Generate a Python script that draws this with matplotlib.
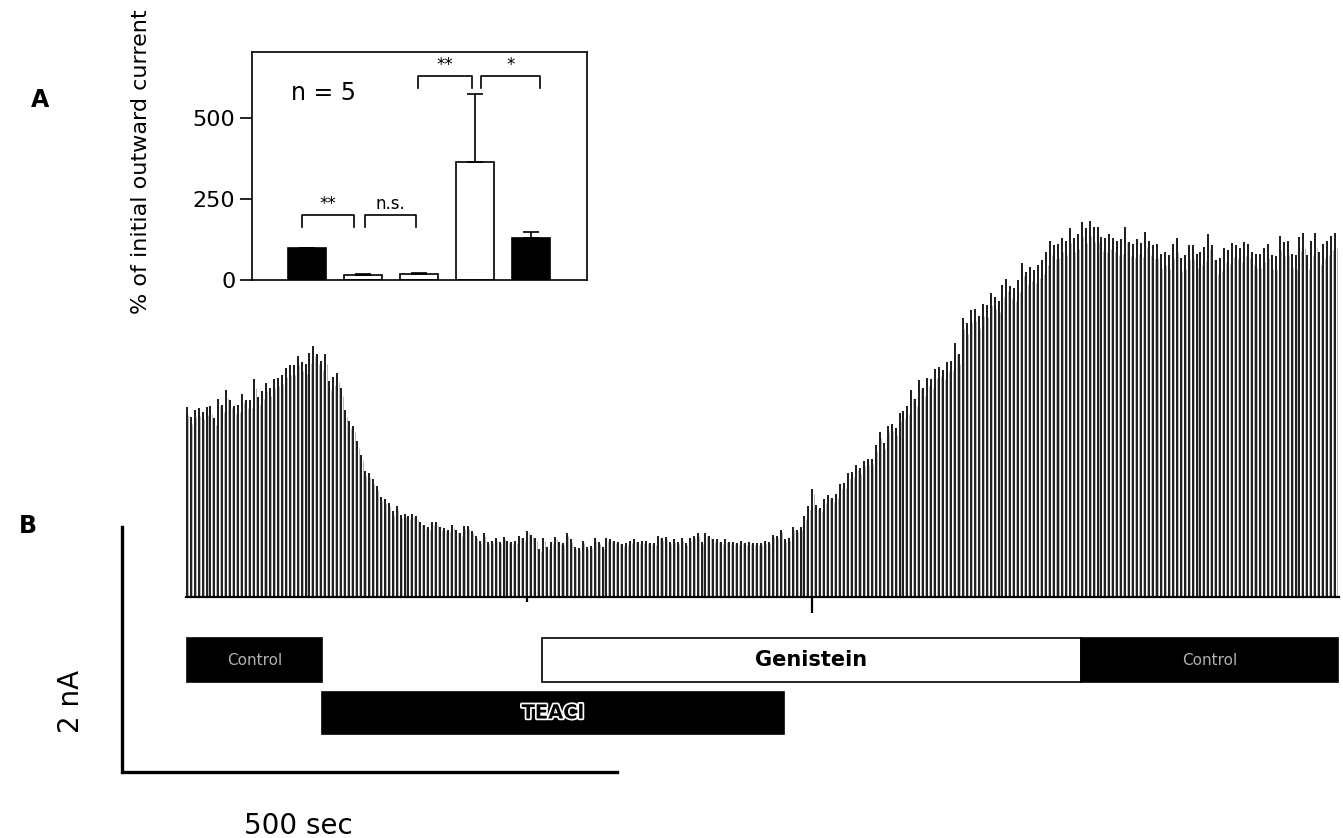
import numpy as np
import matplotlib
matplotlib.use("Agg")
import matplotlib.pyplot as plt
import matplotlib.patheffects as pe

# peak outward current of each sweep (nA), one sweep every 4 s
peak_na = [
    1.55, 1.47, 1.53, 1.54, 1.51, 1.55, 1.56, 1.46, 1.62, 1.57,
    1.69, 1.61, 1.56, 1.57, 1.66, 1.61, 1.61, 1.78, 1.63, 1.68,
    1.75, 1.71, 1.78, 1.79, 1.81, 1.87, 1.89, 1.89, 1.97, 1.92,
    1.90, 1.99, 2.05, 1.98, 1.93, 1.98, 1.76, 1.80, 1.83, 1.71,
    1.53, 1.44, 1.40, 1.27, 1.16, 1.03, 1.01, 0.96, 0.91, 0.82,
    0.80, 0.77, 0.70, 0.74, 0.67, 0.68, 0.66, 0.68, 0.66, 0.61,
    0.59, 0.57, 0.61, 0.61, 0.57, 0.56, 0.55, 0.59, 0.55, 0.52,
    0.58, 0.58, 0.54,
    0.50, 0.46, 0.52, 0.45, 0.46, 0.48, 0.45, 0.49, 0.46, 0.45,
    0.46, 0.50, 0.48, 0.54, 0.51, 0.48, 0.39, 0.48, 0.41, 0.45,
    0.49, 0.45, 0.44, 0.52, 0.47, 0.41, 0.40, 0.46, 0.41, 0.42,
    0.48, 0.45, 0.41, 0.48, 0.47, 0.46, 0.45, 0.43, 0.44, 0.46,
    0.47, 0.45, 0.46, 0.46, 0.44, 0.44, 0.50, 0.48, 0.49, 0.45,
    0.47, 0.45, 0.48, 0.44, 0.48, 0.50, 0.52, 0.45, 0.52, 0.50,
    0.47, 0.47, 0.45, 0.47, 0.45, 0.45, 0.44, 0.46, 0.44, 0.45,
    0.44, 0.44,
    0.44, 0.46, 0.45, 0.51, 0.50, 0.55, 0.47, 0.48, 0.57, 0.55,
    0.57, 0.66, 0.74, 0.88, 0.75, 0.73, 0.80, 0.83, 0.81, 0.84,
    0.92, 0.93, 1.01, 1.02, 1.08, 1.05, 1.11, 1.13, 1.13, 1.24,
    1.35, 1.26, 1.40, 1.41, 1.38, 1.50, 1.52, 1.56, 1.69, 1.62,
    1.77, 1.71, 1.79, 1.78, 1.86, 1.88, 1.85, 1.92, 1.93, 2.07,
    1.98, 2.28, 2.24, 2.34, 2.35, 2.29, 2.39, 2.38, 2.48, 2.45,
    2.42, 2.55, 2.60, 2.54, 2.52, 2.59, 2.73, 2.65, 2.69, 2.67,
    2.71, 2.75,
    2.82, 2.91, 2.87, 2.88, 2.93, 2.91, 3.01, 2.93, 2.96, 3.06,
    3.01, 3.07, 3.02, 3.02, 2.94, 2.93, 2.96, 2.93, 2.91, 2.92,
    3.02, 2.90, 2.88, 2.92, 2.89, 2.98, 2.91, 2.87, 2.88, 2.80,
    2.82, 2.79, 2.88, 2.93, 2.77, 2.79, 2.87, 2.87, 2.80, 2.82,
    2.86, 2.96, 2.87, 2.75, 2.77, 2.85, 2.83, 2.89, 2.87, 2.85,
    2.90, 2.88, 2.82, 2.80, 2.80, 2.85, 2.88, 2.79, 2.78, 2.95,
    2.90, 2.91, 2.80, 2.79, 2.94, 2.97, 2.79, 2.91, 2.97, 2.82,
    2.88, 2.91, 2.95, 2.97,
]
sweep_interval = 4  # s

# artefacts below the baseline (time in s, nA)
dip_t = [344, 632]
dip_na = [-0.04, -0.13]

# drug applications (s)
sol_names = ["Control", "TEACl", "Genistein", "Control"]
sol_start = [0, 137, 359, 903]
sol_end = [137, 603, 903, 1163]
sol_row = [0, 1, 0, 0]
sol_dark = [True, True, False, True]

# scale bars
scale_t = 500   # sec
scale_i = 2     # nA

# inset bar chart (A)
bar_means = [100, 15, 17, 364, 130]
bar_err = [0, 3, 5, 210, 18]
bar_colors = ["black", "white", "white", "white", "black"]
sig_labels = ["**", "n.s.", "**", "*"]
sig_levels = [200, 200, 630, 630]

W, H = 1343, 838
fig = plt.figure(figsize=(W / 100, H / 100), dpi=100)
plt.rcParams["font.family"] = ["DejaVu Sans"]

# ---- B: current trace ----
px_s = 0.99      # pixels per second
px_na = 122.5    # pixels per nA
x0, y0 = 186.7, 597.0
ax = fig.add_axes([0, 0, 1, 1])
ax.set_xlim(-x0 / px_s, (W - x0) / px_s)
ax.set_ylim(-(H - y0) / px_na, y0 / px_na)
ax.axis("off")

t = np.arange(len(peak_na)) * sweep_interval
ax.vlines(t, 0, peak_na, color="black", lw=1.25)
ax.vlines(t + 1.6, 0, np.array(peak_na) * 0.96, color="#9a9a9a", lw=0.5)
ax.plot([t[0] - 1, t[-1] + 4], [0, 0], color="black", lw=1.6)
ax.vlines(dip_t, dip_na, 0, color="black", lw=1.6)

row_y = [(-0.694, -0.335), (-1.118, -0.776)]
for name, s, e, r, dark in zip(sol_names, sol_start, sol_end, sol_row, sol_dark):
    lo, hi = row_y[r]
    ax.add_patch(plt.Rectangle((s, lo), e - s, hi - lo,
                               facecolor="black" if dark else "white",
                               edgecolor="black", lw=1.2))
    cx, cy = (s + e) / 2, (lo + hi) / 2
    if name == "TEACl":
        ax.text(cx, cy, name, color="black", fontsize=14, fontweight="bold",
                ha="center", va="center",
                path_effects=[pe.withStroke(linewidth=2.5, foreground="white")])
    elif dark:
        ax.text(cx, cy, name, color="#b0b0b0", fontsize=11,
                ha="center", va="center")
    else:
        ax.text(cx, cy, name, color="black", fontsize=15, fontweight="bold",
                ha="center", va="center")

sb_x = (122 - x0) / px_s
sb_y = -(772 - y0) / px_na
ax.plot([sb_x, sb_x, sb_x + scale_t], [sb_y + scale_i, sb_y, sb_y],
        color="black", lw=2.4, solid_joinstyle="miter")
ax.text(sb_x - 52, sb_y + 0.58, f"{scale_i} nA", rotation=90, fontsize=20,
        ha="center", va="center")
ax.text(sb_x + 178, sb_y - 0.44, f"{scale_t} sec", fontsize=20,
        ha="center", va="center")

fig.text(40 / W, 1 - 100 / H, "A", fontsize=17, fontweight="bold",
         ha="center", va="center")
fig.text(28 / W, 1 - 526 / H, "B", fontsize=17, fontweight="bold",
         ha="center", va="center")

# ---- A: inset bars ----
axi = fig.add_axes([252 / W, 1 - 280 / H, 335 / W, 228 / H])
xb = np.arange(len(bar_means))
axi.bar(xb, bar_means, width=0.68, color=bar_colors, edgecolor="black", lw=1.2)
axi.errorbar(xb, bar_means, yerr=[np.zeros(len(bar_err)), bar_err], fmt="none",
             ecolor="black", elinewidth=1.2, capsize=6, capthick=1.2)
axi.set_xlim(-0.98, 5.0)
axi.set_ylim(0, 704)
axi.set_xticks([])
axi.set_yticks([0, 250, 500])
axi.tick_params(axis="y", length=9, width=1.2, labelsize=16, pad=3)
for sp in axi.spines.values():
    sp.set_linewidth(1.2)
axi.set_ylabel("% of initial outward current", fontsize=16)
axi.yaxis.set_label_coords(-0.30, 0.52)
axi.text(0.29, 577, "n = 5", fontsize=17, ha="center", va="center")

spans = [(-0.09, 0.84), (1.04, 1.95), (1.98, 2.95), (3.10, 4.16)]
for (xa, xc), lab, lev in zip(spans, sig_labels, sig_levels):
    axi.plot([xa, xa, xc, xc], [lev - 36, lev, lev, lev - 36], color="black", lw=1.2)
    axi.text((xa + xc) / 2, lev + 6, lab, fontsize=12, ha="center", va="bottom")

fig.savefig("out.png", dpi=100)
